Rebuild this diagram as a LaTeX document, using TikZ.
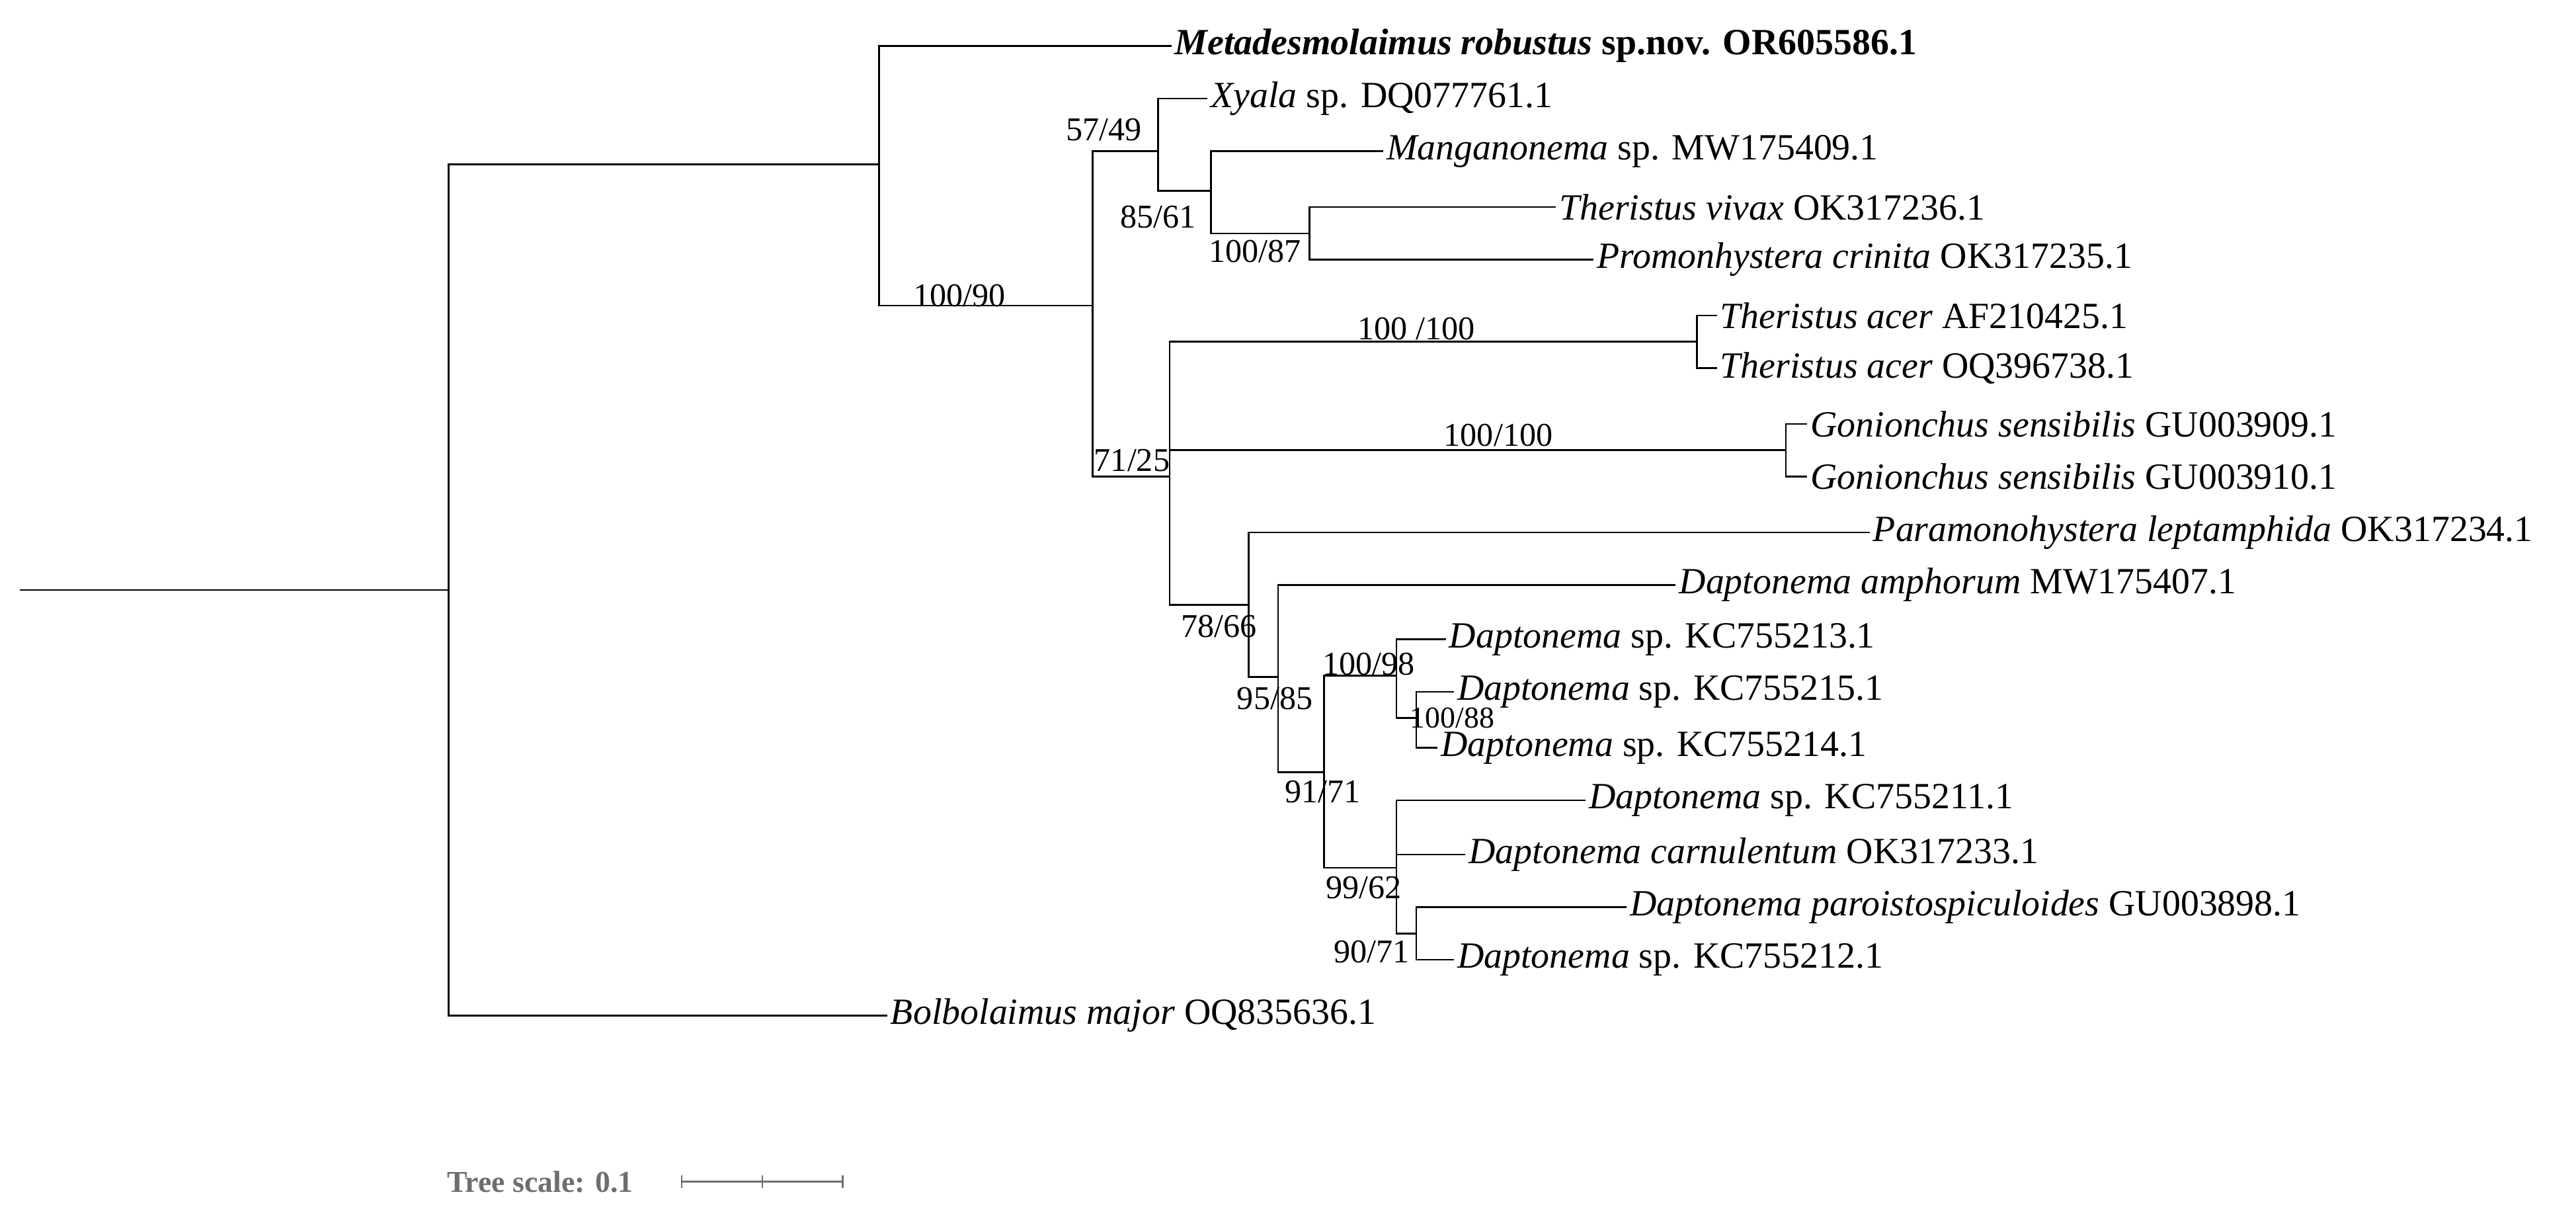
\documentclass[tikz,border=0pt]{standalone}
\usepackage{fontspec}
\setmainfont{Liberation Serif}
\usepackage{tikz}
\usetikzlibrary{positioning,calc}
\definecolor{scalegray}{RGB}{110,110,110}

\begin{document}
\begin{tikzpicture}[x=0.02cm,y=-0.02cm,
          leaf/.style={anchor=west,inner sep=1pt,font=\fontsize{12.8}{14}\selectfont},
          boot/.style={inner sep=1pt,font=\fontsize{11.5}{13}\selectfont},
          branch/.style={line width=0.6pt},
          ]
          \useasboundingbox (0,0) rectangle (1568,740.5);
          % the inner nodes of the tree
          \foreach \n/\xc/\yc in {root/12/359,n1/273/359,n2/535/100,n3/665/186,n4/705/92,
              n6/737/116,n7/797/142,n5/712/290,acer/1033/208,gon/1087/274,
              n8/760/368,n9/778/412,n10/806/470,n11/850/411,n13/862/437,
              n12/850/528,n14/862/568}
            \coordinate (\n) at (\xc,\yc);

          % the leaves
          \foreach \i/\xc/\yc/\txt in {
              meta/713/28/{\textbf{\textit{Metadesmolaimus robustus} sp.nov. OR605586.1}},
              xya/735/60/{\textit{Xyala} sp. DQ077761.1},
              mang/842/92/{\textit{Manganonema} sp. MW175409.1},
              tviv/947/126/{\textit{Theristus vivax} OK317236.1},
              prom/970/158/{\textit{Promonhystera crinita} OK317235.1},
              taa/1045/192/{\textit{Theristus acer} AF210425.1},
              tao/1045/224/{\textit{Theristus acer} OQ396738.1},
              gsa/1100/258/{\textit{Gonionchus sensibilis} GU003909.1},
              gsb/1100/290/{\textit{Gonionchus sensibilis} GU003910.1},
              para/1138/324/{\textit{Paramonohystera leptamphida} OK317234.1},
              amph/1020/356/{\textit{Daptonema amphorum} MW175407.1},
              dc/880/389/{\textit{Daptonema} sp. KC755213.1},
              de/885/421/{\textit{Daptonema} sp. KC755215.1},
              dd/875/455/{\textit{Daptonema} sp. KC755214.1},
              da/965/487/{\textit{Daptonema} sp. KC755211.1},
              carn/892/520/{\textit{Daptonema carnulentum} OK317233.1},
              paro/990/552/{\textit{Daptonema paroistospiculoides} GU003898.1},
              db/885/584/{\textit{Daptonema} sp. KC755212.1},
              bolb/540/618/{\textit{Bolbolaimus major} OQ835636.1}}
            \node[leaf] (\i) at (\xc,\yc) {\txt};

          % the edges, parent to child
          \draw[branch] (root) -- (n1);
          \foreach \p/\c in {n1/n2,n1/bolb.west,n2/meta.west,n2/n3,n3/n4,n3/n5,
              n4/xya.west,n4/n6,n6/mang.west,n6/n7,n7/tviv.west,n7/prom.west,
              n5/acer,n5/gon,n5/n8,acer/taa.west,acer/tao.west,gon/gsa.west,gon/gsb.west,
              n8/para.west,n8/n9,n9/amph.west,n9/n10,n10/n11,n10/n12,
              n11/dc.west,n11/n13,n13/de.west,n13/dd.west,
              n12/da.west,n12/carn.west,n12/n14,n14/paro.west,n14/db.west}
            \draw[branch] (\p) |- (\c);

          % the support values
          \node[boot] at (584,180) {100/90};
          \node[boot] at (672,79) {57/49};
          \node[boot] at (705,132) {85/61};
          \node[boot] at (764,153) {100/87};
          \node[boot] at (689,280) {71/25};
          \node[boot] at (862,200) {100 /100};
          \node[boot] at (912,265) {100/100};
          \node[boot] at (742,381) {78/66};
          \node[boot] at (776,425) {95/85};
          \node[boot] at (805,482) {91/71};
          \node[boot] at (833,404) {100/98};
          \node[boot,font=\fontsize{10.5}{12}\selectfont] at (884,437) {100/88};
          \node[boot] at (830,540) {99/62};
          \node[boot] at (835,579) {90/71};

          % the scale bar
          \node[scalegray,anchor=west,inner sep=0pt,font=\bfseries\fontsize{10.5}{12}\selectfont] (scale) at (272,719) {Tree scale: 0.1};
          \coordinate (sa) at (415,719);
          \coordinate (sb) at (513,719);
          \draw[scalegray,line width=0.6pt] (sa) -- (sb);
          \foreach \xc in {415,464,513}
            \draw[scalegray,line width=0.6pt] (\xc,715) -- (\xc,723);
        \end{tikzpicture}
\end{document}
